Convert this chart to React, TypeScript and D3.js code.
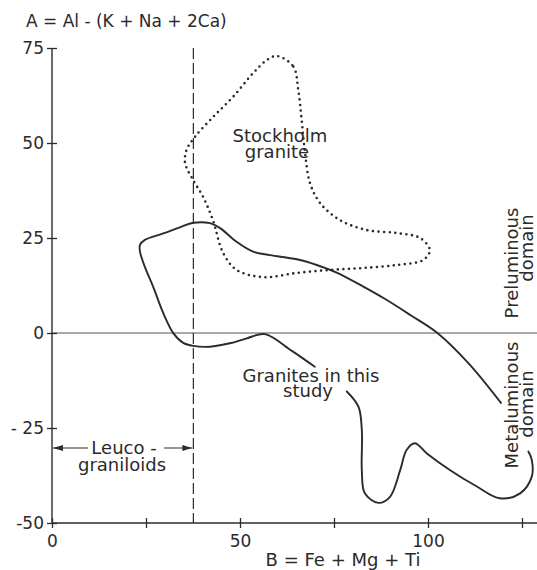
import React, { useEffect, useRef } from "react";
import * as d3 from "d3";

const yTicks = [75, 50, 25, 0, -25, -50];
const yTickLabels = ["75", "50", "25", "0", "- 25", "-50"];
const xTicks = [0, 25, 50, 75, 100, 125];
const xTickLabels = ["0", "", "50", "", "100", ""];
const leucoLimit = 37.6;

// Stockholm granite outline (closed, dotted)
const stockholmB = [59.8, 64.2, 65.5, 66.4, 67.3, 68.6, 71.3, 76.6, 83.7, 91.7, 97.9, 100.5, 98.7, 91.7, 82.7, 73.9, 65.1, 56.1, 49.1, 45.5, 42.8, 40.2, 37.5, 35.4, 35.8, 38, 42.8, 48.1, 53.5, 57.1];
const stockholmA = [72.9, 70.1, 63.9, 56.1, 47.4, 39.5, 34.2, 29.7, 27.1, 26.3, 25, 21.8, 19.2, 17.9, 17.1, 16.6, 15.8, 14.7, 16.6, 21.1, 29.7, 35.8, 40.3, 44.7, 48.2, 51.6, 56.8, 62.1, 68.4, 71.8];

// Granites in this study - upper branch
const upperB = [69.9, 63.8, 56.6, 51.8, 47.3, 42.0, 37.6, 34.9, 32.3, 29.6, 26.9, 24.7, 23.4, 23.4, 24.7, 29.6, 34.0, 37.6, 42.0, 44.7, 49.1, 53.5, 58.0, 65.1, 70.4, 75.7, 82.8, 88.5, 95.5, 102.5, 110.8, 119.4];
const upperA = [-8.9, -4.7, -0.3, -1.4, -2.7, -3.6, -3.4, -2.6, -0.1, 5.2, 12.2, 17.4, 21.4, 23.2, 24.5, 26.2, 27.8, 29.0, 28.9, 27.6, 24.0, 21.4, 20.5, 19.4, 17.9, 15.9, 12.2, 9.0, 4.6, 0, -8.0, -18.4];

// Granites in this study - lower branch
const lowerB = [78.4, 81.5, 82.4, 82.4, 83.2, 86.8, 89.9, 92.6, 94.3, 96.5, 99.7, 105.9, 113.0, 119.1, 124.5, 127.6, 127.6, 126.7];
const lowerA = [-15.4, -19.4, -25.5, -36.1, -42.2, -44.7, -43.1, -36.1, -30.8, -29.0, -31.7, -36.1, -40.4, -43.5, -42.2, -37.8, -33.4, -31.2];

function App() {
  const svgRef = useRef<SVGSVGElement>(null);
  const width = 537;
  const height = 570;

  useEffect(() => {
    const svg = d3.select(svgRef.current);
    svg.selectAll("*").remove();

    const font = "'DejaVu Sans', sans-serif";
    const ink = "#2b2b2b";

    const x = d3.scaleLinear().domain([0, 125]).range([52, 522]);
    const y = d3.scaleLinear().domain([-50, 75]).range([523, 48]);

    // arrow marker
    svg
      .append("defs")
      .append("marker")
      .attr("id", "arrow")
      .attr("viewBox", "0 0 10 6")
      .attr("refX", 10)
      .attr("refY", 3)
      .attr("markerWidth", 10)
      .attr("markerHeight", 6)
      .attr("markerUnits", "userSpaceOnUse")
      .attr("orient", "auto-start-reverse")
      .append("path")
      .attr("d", "M0,0L10,3L0,6Z")
      .attr("fill", ink);

    // axis lines and zero line
    svg.append("line")
      .attr("x1", x(0)).attr("x2", x(0))
      .attr("y1", y(75)).attr("y2", y(-50))
      .attr("stroke", ink).attr("stroke-width", 1.4);
    svg.append("line")
      .attr("x1", x(0)).attr("x2", width)
      .attr("y1", y(-50)).attr("y2", y(-50))
      .attr("stroke", ink).attr("stroke-width", 1.4);
    svg.append("line")
      .attr("x1", x(0)).attr("x2", width)
      .attr("y1", y(0)).attr("y2", y(0))
      .attr("stroke", "#555").attr("stroke-width", 1);

    // y axis
    const yAxis = svg
      .append("g")
      .attr("transform", `translate(${x(0)},0)`)
      .call(
        d3.axisLeft(y)
          .tickValues(yTicks)
          .tickSize(5)
          .tickPadding(3)
          .tickFormat((d, i) => yTickLabels[i])
      );
    yAxis.select(".domain").remove();
    yAxis.selectAll(".tick line").attr("x1", 5).attr("stroke", ink).attr("stroke-width", 1.3);
    yAxis.selectAll(".tick text")
      .attr("fill", ink)
      .style("font-family", font)
      .style("font-size", "17px");

    // x axis
    const xAxis = svg
      .append("g")
      .attr("transform", `translate(0,${y(-50)})`)
      .call(
        d3.axisBottom(x)
          .tickValues(xTicks)
          .tickSize(5)
          .tickPadding(7)
          .tickFormat((d, i) => xTickLabels[i])
      );
    xAxis.select(".domain").remove();
    xAxis.selectAll(".tick line").attr("y1", -5).attr("stroke", ink).attr("stroke-width", 1.3);
    xAxis.selectAll(".tick text")
      .attr("fill", ink)
      .style("font-family", font)
      .style("font-size", "17px");

    // leucogranitoid limit
    svg.append("line")
      .attr("x1", x(leucoLimit)).attr("x2", x(leucoLimit))
      .attr("y1", y(75)).attr("y2", y(-50))
      .attr("stroke", ink).attr("stroke-width", 1.2)
      .attr("stroke-dasharray", "11,4");

    // curves
    const line = d3.line<[number, number]>()
      .x((d) => x(d[0]))
      .y((d) => y(d[1]));

    const stockholm = stockholmB.map((b, i) => [b, stockholmA[i]] as [number, number]);
    svg.append("path")
      .attr("d", line.curve(d3.curveCatmullRomClosed.alpha(0.5))(stockholm))
      .attr("fill", "none")
      .attr("stroke", ink)
      .attr("stroke-width", 2.6)
      .attr("stroke-linecap", "round")
      .attr("stroke-dasharray", "0,5.6");

    const upper = upperB.map((b, i) => [b, upperA[i]] as [number, number]);
    const lower = lowerB.map((b, i) => [b, lowerA[i]] as [number, number]);
    [upper, lower].forEach((pts) => {
      svg.append("path")
        .attr("d", line.curve(d3.curveCatmullRom.alpha(0.5))(pts))
        .attr("fill", "none")
        .attr("stroke", ink)
        .attr("stroke-width", 1.9)
        .attr("stroke-linecap", "round");
    });

    // leuco arrow
    const arrowY = 448;
    svg.append("line")
      .attr("x1", x(0) + 1).attr("x2", x(leucoLimit) - 1)
      .attr("y1", arrowY).attr("y2", arrowY)
      .attr("stroke", ink).attr("stroke-width", 1.2)
      .attr("marker-start", "url(#arrow)")
      .attr("marker-end", "url(#arrow)");
    svg.append("rect")
      .attr("x", 88).attr("y", arrowY - 12)
      .attr("width", 76).attr("height", 20)
      .attr("fill", "#fff");

    const label = (tx: number, ty: number, str: string, anchor = "middle", rotate = 0) =>
      svg.append("text")
        .attr("transform", `translate(${tx},${ty}) rotate(${rotate})`)
        .attr("text-anchor", anchor)
        .attr("fill", ink)
        .style("font-family", font)
        .style("font-size", "18px")
        .text(str);

    label(26, 27, "A = Al - (K + Na + 2Ca)", "start").style("font-size", "17px");
    label(343, 566, "B = Fe + Mg + Ti");
    label(280, 142, "Stockholm");
    label(277, 158, "granite");
    label(311, 382, "Granites in this");
    label(308, 397, "study");
    label(124, 454, "Leuco -");
    label(122, 471, "graniloids");
    label(518, 263, "Preluminous", "middle", -90);
    label(533, 248, "domain", "middle", -90);
    label(518, 405, "Metaluminous", "middle", -90);
    label(533, 404, "domain", "middle", -90);
  }, []);

  return (
    <svg
      ref={svgRef}
      width={width}
      height={height}
      style={{ position: "absolute", left: 0, top: 0, background: "#fff" }}
    ></svg>
  );
}

export default App;
